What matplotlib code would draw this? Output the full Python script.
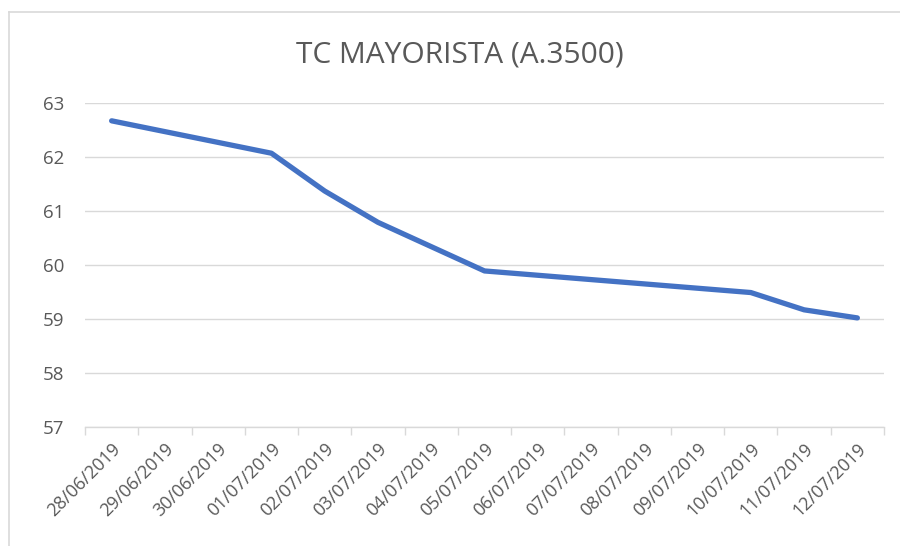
import matplotlib.pyplot as plt
from matplotlib.lines import Line2D

# categories shown on the axis (every calendar day)
categories = ["28/06/2019", "29/06/2019", "30/06/2019", "01/07/2019", "02/07/2019",
              "03/07/2019", "04/07/2019", "05/07/2019", "06/07/2019", "07/07/2019",
              "08/07/2019", "09/07/2019", "10/07/2019", "11/07/2019", "12/07/2019"]

# observed days and values
obs_dates = ["28/06/2019", "01/07/2019", "02/07/2019", "03/07/2019",
             "05/07/2019", "10/07/2019", "11/07/2019", "12/07/2019"]
obs_values = [62.67, 62.07, 61.37, 60.79, 59.89, 59.49, 59.17, 59.02]

y_ticks = [57, 58, 59, 60, 61, 62, 63]

plt.rcParams['font.family'] = ['Open Sans', 'DejaVu Sans']
text_col = "#595959"
grid_col = "#D9D9D9"

fig = plt.figure(figsize=(9, 5.46), dpi=100)
ax = fig.add_axes([85/900, 1 - 427/546, (884 - 85)/900, (427 - 103)/546])

xs = [categories.index(d) for d in obs_dates]
ax.plot(xs, obs_values, color="#4472C4", lw=3.8, solid_capstyle="round",
        solid_joinstyle="round")

ax.set_xlim(-0.5, len(categories) - 0.5)
ax.set_ylim(57, 63)
ax.set_yticks(y_ticks)
ax.grid(axis="y", color=grid_col, lw=1.0)
ax.set_axisbelow(True)

ax.set_xticks(range(len(categories)))
ax.set_xticklabels(categories, rotation=45, ha="right", rotation_mode="anchor",
                   fontsize=13, color=text_col)
ax.set_xticks([i - 0.5 for i in range(len(categories) + 1)], minor=True)
ax.tick_params(axis="x", which="major", length=0, pad=9)
ax.tick_params(axis="x", which="minor", length=6, color=grid_col, width=1.0)
ax.tick_params(axis="y", length=0, labelsize=13.5, labelcolor=text_col, pad=15)

for s in ["top", "right", "left"]:
    ax.spines[s].set_visible(False)
ax.spines["bottom"].set_color(grid_col)
ax.spines["bottom"].set_linewidth(1.0)

fig.text(460/900, 1 - 55/546, "TC MAYORISTA (A.3500)", ha="center", va="center",
         fontsize=21.5, color=text_col)

# chart area border (top and left edge visible)
fig.add_artist(Line2D([9/900, 1], [1 - 12/546] * 2, color=grid_col, lw=1.2,
                      transform=fig.transFigure))
fig.add_artist(Line2D([9/900] * 2, [0, 1 - 12/546], color=grid_col, lw=1.2,
                      transform=fig.transFigure))

fig.savefig("out.png", dpi=100)
